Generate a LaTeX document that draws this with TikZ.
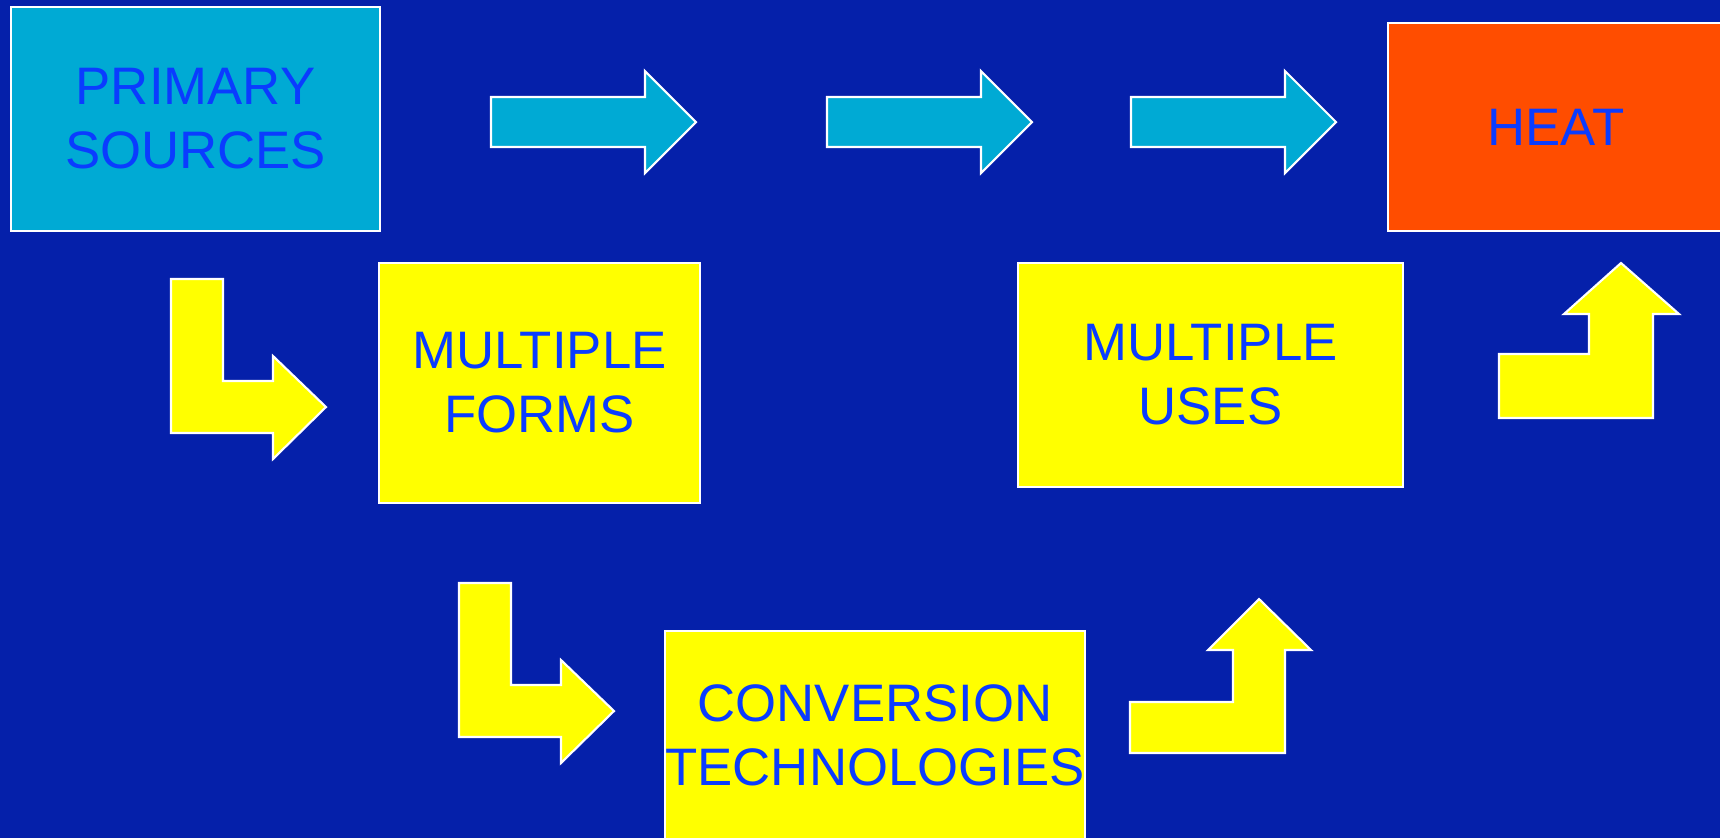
\documentclass[tikz,border=0pt]{standalone}
\usepackage{fontspec}
\setmainfont{Liberation Sans}
\usepackage{xcolor}
\usepackage{tikz}
\usetikzlibrary{positioning}
\definecolor{slidebg}{HTML}{0520AA}
\definecolor{cyanbox}{HTML}{00AAD4}
\definecolor{heatred}{HTML}{FF4D00}
\definecolor{yelbox}{HTML}{FFFF00}
\definecolor{txtblue}{HTML}{0A3CFF}
\newcommand{\slidefont}{\fontsize{15pt}{18.2pt}\selectfont}
\tikzset{
  panel/.style={draw=white,line width=0.6pt,align=center,font=\slidefont,text=txtblue,inner sep=0pt},
  srcbox/.style={panel,fill=cyanbox},
  heatbox/.style={panel,fill=heatred},
  formbox/.style={panel,fill=yelbox},
  blockarrow/.style={draw=white,line width=0.6pt,line join=miter},
}

\begin{document}
\begin{tikzpicture}[x=0.01cm,y=-0.01cm]
  \fill[slidebg] (0,0) rectangle (1720,838);
  \useasboundingbox (0,0) rectangle (1720,838);
  % boxes
  \node[srcbox, minimum width=3.69cm, minimum height=2.24cm] (primary) at (195.5,119) {PRIMARY\\SOURCES};
  \node[heatbox, minimum width=3.36cm, minimum height=2.08cm] (heat) at (1556,127) {HEAT};
  \node[formbox, minimum width=3.20cm, minimum height=2.40cm] (forms) at (539.5,383) {MULTIPLE\\FORMS};
  \node[formbox, minimum width=3.85cm, minimum height=2.24cm] (uses) at (1210.5,375) {MULTIPLE\\USES};
  \node[formbox, minimum width=4.16cm, minimum height=2.08cm] (conv) at (875,735) {CONVERSION\\TECHNOLOGIES};
  % straight arrows along the top
  \foreach \x in {491,827,1131}
    \draw[blockarrow,fill=cyanbox] (\x,97) -- ++(154,0) -- ++(0,-26) -- ++(51,51) -- ++(-51,51) -- ++(0,-26) -- ++(-154,0) -- cycle;
  % bent arrows down and right
  \foreach \x/\y in {171/279, 459/583}
    \draw[blockarrow,fill=yelbox] (\x,\y) -- ++(52,0) -- ++(0,102) -- ++(50,0) -- ++(0,-25) -- ++(53,51) -- ++(-53,52) -- ++(0,-26) -- ++(-102,0) -- cycle;
  % bent arrows right and up
  \draw[blockarrow,fill=yelbox] (1499,418) -- (1653,418) -- (1653,314) -- (1679,314) -- (1621,263) -- (1564,314) -- (1589,314) -- (1589,354) -- (1499,354) -- cycle;
  \draw[blockarrow,fill=yelbox] (1130,753) -- (1285,753) -- (1285,650) -- (1311,650) -- (1259,599) -- (1208,650) -- (1233,650) -- (1233,702) -- (1130,702) -- cycle;
\end{tikzpicture}
\end{document}
